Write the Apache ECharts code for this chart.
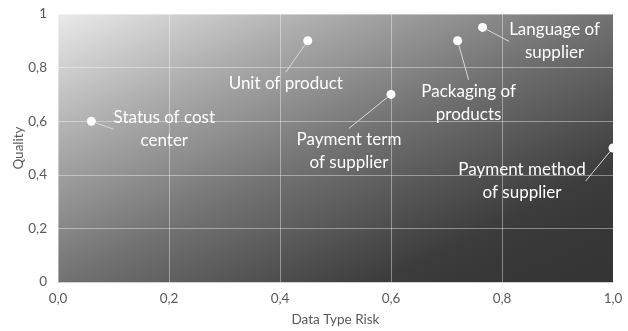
<!DOCTYPE html>
<html>
<head>
<meta charset="utf-8">
<script src="https://cdn.jsdelivr.net/npm/echarts@6/dist/echarts.min.js"></script>
<style>
html,body{margin:0;padding:0;background:#fff;}
#chart{width:628px;height:331px;}
</style>
</head>
<body>
<div id="chart"></div>
<script>
// ---- data ----
var names = ['Status of cost\ncenter', 'Unit of product', 'Payment term\nof supplier', 'Packaging of\nproducts', 'Language of\nsupplier', 'Payment method\nof supplier'];
var riskValues = [0.06, 0.45, 0.60, 0.72, 0.765, 1.0];
var qualityValues = [0.60, 0.90, 0.70, 0.90, 0.95, 0.50];
var xTickLabels = ['0,0', '0,2', '0,4', '0,6', '0,8', '1,0'];
var yTickLabels = ['0', '0,2', '0,4', '0,6', '0,8', '1'];

// ---- layout (label offsets in px, not data) ----
var labelOffsets = [[73, 8], [-22, 43], [-42, 57], [11, 62], [72, 14], [-91, 33]];

var gridLeft = 58, gridRight = 15, gridTop = 14, gridBottom = 49;
var W = 628, H = 331;
var gw = W - gridLeft - gridRight, gh = H - gridTop - gridBottom;
var sum = gw * gw + gh * gh;
var gx2 = 2 * gh * gh / sum, gy2 = 2 * gw * gw / sum;

var chart = echarts.init(document.getElementById('chart'), null, {renderer: 'canvas'});
var font = 'Lato, "Open Sans", sans-serif';

var data = riskValues.map(function (x, i) {
  return {name: names[i], value: [x, qualityValues[i]]};
});

chart.setOption({
  animation: false,
  grid: {
    left: gridLeft, right: gridRight, top: gridTop, bottom: gridBottom,
    containLabel: false, outerBoundsMode: 'none',
    show: true, borderWidth: 0,
    backgroundColor: new echarts.graphic.LinearGradient(0, 0, gx2, gy2, [
      {offset: 0, color: '#eaeaea'},
      {offset: 0.24, color: '#adadad'},
      {offset: 0.5, color: '#727272'},
      {offset: 0.79, color: '#3c3c3c'},
      {offset: 0.9, color: '#363636'},
      {offset: 1, color: '#343434'}
    ])
  },
  xAxis: {
    type: 'value', min: 0, max: 1, interval: 0.2,
    name: 'Data Type Risk', nameLocation: 'middle', nameGap: 31, nameMoveOverlap: false,
    nameTextStyle: {color: '#595959', fontSize: 13.5, fontFamily: font},
    axisLine: {show: true, lineStyle: {color: '#d0d0d0'}},
    axisTick: {show: false},
    axisLabel: {color: '#595959', fontSize: 13.5, fontFamily: font, margin: 10,
      formatter: function (v) { return xTickLabels[Math.round(v / 0.2)]; }},
    splitLine: {show: true, lineStyle: {color: 'rgba(255,255,255,0.4)', width: 1}}
  },
  yAxis: {
    type: 'value', min: 0, max: 1, interval: 0.2,
    name: 'Quality', nameLocation: 'middle', nameGap: 32, nameRotate: 90, nameMoveOverlap: false,
    nameTextStyle: {color: '#595959', fontSize: 13.5, fontFamily: font},
    axisLine: {show: false},
    axisTick: {show: false},
    axisLabel: {color: '#595959', fontSize: 13.5, fontFamily: font, margin: 11,
      formatter: function (v) { return yTickLabels[Math.round(v / 0.2)]; }},
    splitLine: {show: true, lineStyle: {color: 'rgba(255,255,255,0.4)', width: 1}}
  },
  series: [{
    type: 'scatter',
    data: data,
    symbolSize: 9,
    itemStyle: {color: '#ffffff', opacity: 1},
    label: {
      show: true, position: 'inside',
      formatter: '{b}',
      color: '#ffffff', fontSize: 17, lineHeight: 23, fontFamily: font,
      align: 'center', verticalAlign: 'middle'
    },
    labelLine: {show: true, lineStyle: {color: '#d9d9d9', width: 1}},
    labelLayout: function (p) {
      var o = labelOffsets[p.dataIndex];
      return {dx: o[0], dy: o[1]};
    }
  }]
});
</script>
</body>
</html>
